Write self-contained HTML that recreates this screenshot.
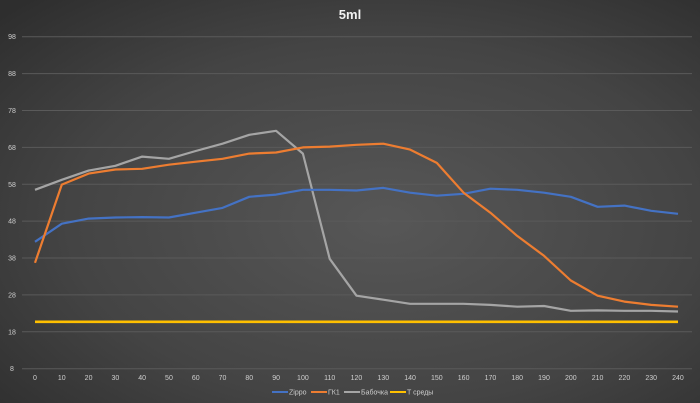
<!DOCTYPE html>
<html><head><meta charset="utf-8"><style>
html,body{margin:0;padding:0;width:700px;height:403px;overflow:hidden;background:#3a3a3a}
svg{display:block}
text{font-family:"Liberation Sans",sans-serif}
</style></head><body>
<svg id="c" width="700" height="403" viewBox="0 0 700 403" xmlns="http://www.w3.org/2000/svg">
<defs>
<radialGradient id="bg" cx="0.55" cy="0.55" r="0.75">
<stop offset="0" stop-color="#575757"/>
<stop offset="0.6" stop-color="#444"/>
<stop offset="1" stop-color="#2e2e2e"/>
</radialGradient>
</defs>
<rect width="700" height="403" fill="url(#bg)"/>
<text x="350" y="19" fill="#f2f2f2" font-size="13" font-weight="bold" text-anchor="middle">5ml</text>
<g id="grid"></g>
<g id="series" fill="none" stroke-width="2.2" stroke-linejoin="round"></g>
<g font-size="7" fill="#ccc">
<line x1="272" y1="392" x2="288" y2="392" stroke="#4472c4" stroke-width="2"/><text x="289" y="394.5">Zippo</text>
<line x1="311" y1="392" x2="327" y2="392" stroke="#ed7d31" stroke-width="2"/><text x="328" y="394.5">ГК1</text>
<line x1="344" y1="392" x2="360" y2="392" stroke="#a5a5a5" stroke-width="2"/><text x="361" y="394.5">Бабочка</text>
<line x1="390" y1="392" x2="406" y2="392" stroke="#ffc000" stroke-width="2"/><text x="407" y="394.5">T среды</text>
</g>
</svg>
<script>
var NS="http://www.w3.org/2000/svg";
function el(t,a,p){var e=document.createElementNS(NS,t);for(var k in a)e.setAttribute(k,a[k]);p.appendChild(e);return e;}
function Y(v){return 368.7-(v-8)*3.689;}
function X(i){return 35+i*26.79;}
var g=document.getElementById('grid');
for(var v=8;v<=98;v+=10){var y=Y(v);el('line',{x1:22,x2:692,y1:y,y2:y,stroke:'#5a5a5a','stroke-width':1},g);
var t=el('text',{x:12,y:y+2.5,fill:'#cfcfcf','font-size':7,'text-anchor':'middle'},g);t.textContent=v;}
for(var i=0;i<=24;i++){var t=el('text',{x:X(i),y:380,fill:'#cfcfcf','font-size':7,'text-anchor':'middle'},g);t.textContent=i*10;}
var s=document.getElementById('series');
var data=[
['#a5a5a5',[56.5,59.2,61.7,63,65.5,64.9,67,69,71.4,72.5,66.3,37.8,27.8,26.7,25.6,25.6,25.6,25.3,24.8,25,23.7,23.8,23.7,23.7,23.5]],
['#4472c4',[42.4,47.3,48.7,49,49.1,49,50.3,51.6,54.6,55.2,56.5,56.5,56.3,57,55.7,54.9,55.4,56.8,56.5,55.7,54.6,51.9,52.2,50.8,50]],
['#ed7d31',[36.7,57.9,60.9,62,62.2,63.3,64.1,64.9,66.3,66.6,68,68.2,68.7,69,67.4,63.8,55.7,50.3,44,38.6,31.9,27.8,26.2,25.3,24.8]],
['#ffc000',Array(25).fill(20.7)]
];
data.forEach(function(d){var p=d[1].map(function(v,i){return X(i).toFixed(1)+','+Y(v).toFixed(1);}).join(' ');
el('polyline',{points:p,stroke:d[0],'stroke-width':d[0]=='#ffc000'?2.6:2.2},s);});
</script>
</body></html>
